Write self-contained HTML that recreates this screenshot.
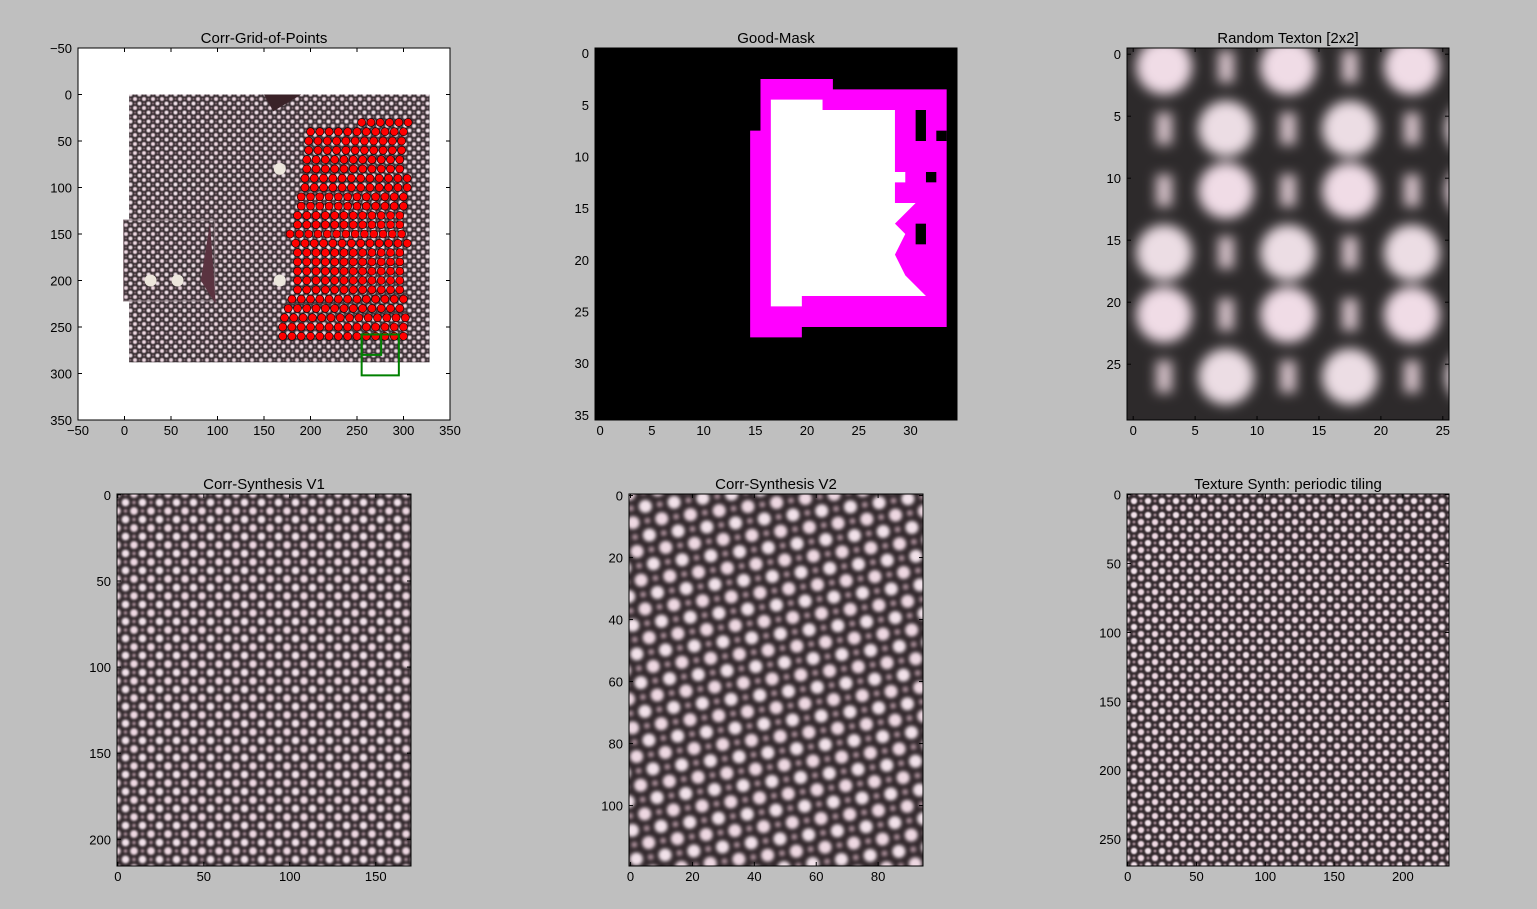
<!DOCTYPE html>
<html><head><meta charset="utf-8"><style>
html,body{margin:0;padding:0;background:#bfbfbf;}
svg{display:block;font-family:"Liberation Sans","DejaVu Sans",sans-serif;}
</style></head><body>
<svg id="fig" width="1537" height="909" viewBox="0 0 1537 909" xmlns="http://www.w3.org/2000/svg">
<defs>
<filter id="blur1"><feGaussianBlur stdDeviation="1.2"/></filter>
<filter id="blur3"><feGaussianBlur stdDeviation="6"/></filter>
<clipPath id="clip3"><rect x="1127" y="48" width="322" height="372"/></clipPath>
<pattern id="tex" patternUnits="userSpaceOnUse" width="20" height="20">
<rect width="20" height="20" fill="#33292d"/>
<g filter="url(#blur1)">
<circle cx="0" cy="0" r="4.5" fill="#eed8e2"/><circle cx="20" cy="0" r="4.5" fill="#eed8e2"/>
<circle cx="0" cy="20" r="4.5" fill="#eed8e2"/><circle cx="20" cy="20" r="4.5" fill="#eed8e2"/>
<circle cx="10" cy="10" r="4.5" fill="#f2e2ea"/>
<circle cx="10" cy="0" r="2" fill="#b89aa6"/><circle cx="0" cy="10" r="2" fill="#b89aa6"/>
<circle cx="20" cy="10" r="2" fill="#b89aa6"/><circle cx="10" cy="20" r="2" fill="#b89aa6"/>
</g>
</pattern>
<pattern id="tex1" href="#tex" patternTransform="scale(0.45)"/>
<pattern id="tex4" href="#tex" patternTransform="translate(117,494) scale(0.85)"/>
<pattern id="tex5" href="#tex" patternTransform="translate(629,494) rotate(-8) scale(1.45)"/>
<pattern id="tex6" href="#tex" patternTransform="translate(1127,494) scale(0.7)"/>
</defs>
</svg>
<script>
// ---- data ----
var axesTitles = ["Corr-Grid-of-Points","Good-Mask","Random Texton [2x2]","Corr-Synthesis V1","Corr-Synthesis V2","Texture Synth: periodic tiling"];
var xTicks1 = [-50,0,50,100,150,200,250,300,350];
var yTicks1 = [-50,0,50,100,150,200,250,300,350];
var xTicks2 = [0,5,10,15,20,25,30];
var yTicks2 = [0,5,10,15,20,25,30,35];
var xTicks3 = [0,5,10,15,20,25];
var yTicks3 = [0,5,10,15,20,25];
var xTicks4 = [0,50,100,150];
var yTicks4 = [0,50,100,150,200];
var xTicks5 = [0,20,40,60,80];
var yTicks5 = [0,20,40,60,80,100];
var xTicks6 = [0,50,100,150,200];
var yTicks6 = [0,50,100,150,200,250];
// red grid points (panel 1): row y values and starting x per row
var rowY = [30,40,50,60,70,80,90,100,110,120,130,140,150,160,170,180,190,200,210,220,230,240,250,260];
var rowStartX = [255,200,198,198,196,196,194,194,190,190,186,186,178,184,186,186,186,186,186,180,176,172,170,170];
var rowEndX = [305,305,305,305,305,305,305,305,305,305,305,305,305,305,305,305,305,305,305,305,305,305,305,305];
var colStep = 10;
// green boxes (data coords)
var boxOuter = [255,258,295,302];
var boxInner = [255,258,276,280];

var NS="http://www.w3.org/2000/svg";
var fig=document.getElementById('fig');
function el(tag,attrs,parent){var e=document.createElementNS(NS,tag);for(var k in attrs)e.setAttribute(k,attrs[k]);(parent||fig).appendChild(e);return e;}
function fmt(v){return v<0?'\u2212'+(-v):''+v;}

function makeAxes(i,L,T,R,B,x0,x1,y0,y1,xt,yt){
  var sx=function(v){return L+(v-x0)/(x1-x0)*(R-L);};
  var sy=function(v){return T+(v-y0)/(y1-y0)*(B-T);};
  return {i:i,L:L,T:T,R:R,B:B,sx:sx,sy:sy,xt:xt,yt:yt};
}
function drawFrame(a,name){
  var g=el('g',{});
  
  
  el('rect',{x:a.L,y:a.T,width:a.R-a.L,height:a.B-a.T,fill:'none',stroke:'#000','stroke-width':1},g);
  a.xt.forEach(function(v){var x=a.sx(v);
    el('line',{x1:x,x2:x,y1:a.B,y2:a.B-4,stroke:'#000'},g);
    el('line',{x1:x,x2:x,y1:a.T,y2:a.T+4,stroke:'#000'},g);
    var t=el('text',{x:x,y:a.B+15,'font-size':13,'text-anchor':'middle',fill:'#000'},g);t.textContent=fmt(v);
    
    
  });
  a.yt.forEach(function(v){var y=a.sy(v);
    el('line',{x1:a.L,x2:a.L+4,y1:y,y2:y,stroke:'#000'},g);
    el('line',{x1:a.R,x2:a.R-4,y1:y,y2:y,stroke:'#000'},g);
    var t=el('text',{x:a.L-6,y:y+5,'font-size':13,'text-anchor':'end',fill:'#000'},g);t.textContent=fmt(v);
    
    
  });
  var tt=el('text',{x:(a.L+a.R)/2,y:a.T-5,'font-size':15,'text-anchor':'middle',fill:'#000'});
  tt.textContent=axesTitles[a.i];
  
  
}

// Panel 1
var a1=makeAxes(0,78,48,450,420,-50,350,-50,350,xTicks1,yTicks1);
var p1=el('g',{});


el('rect',{x:78,y:48,width:372,height:372,fill:'#fff'},p1);
el('rect',{x:a1.sx(5),y:a1.sy(0),width:a1.sx(328)-a1.sx(5),height:a1.sy(288)-a1.sy(0),fill:'url(#tex1)'},p1);
el('rect',{x:a1.sx(-1),y:a1.sy(135),width:a1.sx(97)-a1.sx(-1),height:a1.sy(222)-a1.sy(135),fill:'url(#tex1)',stroke:'#8a7a80','stroke-width':1},p1);
el('polygon',{points:a1.sx(92)+','+a1.sy(138)+' '+a1.sx(82)+','+a1.sy(200)+' '+a1.sx(98)+','+a1.sy(225),fill:'#5a3340'},p1);
el('polygon',{points:a1.sx(150)+','+a1.sy(0)+' '+a1.sx(190)+','+a1.sy(0)+' '+a1.sx(160)+','+a1.sy(18),fill:'#3a2228'},p1);
[[28,200],[57,200],[167,200],[167,80]].forEach(function(b){el('circle',{cx:a1.sx(b[0]),cy:a1.sy(b[1]),r:6,fill:'#ece6dc'},p1);});
for(var r=0;r<rowY.length;r++){
  for(var x=rowStartX[r];x<=rowEndX[r];x+=colStep){
    var c=el('circle',{cx:a1.sx(x),cy:a1.sy(rowY[r]),r:4,fill:'#ff0000',stroke:'#000','stroke-width':0.6});
    
    
  }
}
[boxOuter,boxInner].forEach(function(bx){
  var b=el('rect',{x:a1.sx(bx[0]),y:a1.sy(bx[1]),width:a1.sx(bx[2])-a1.sx(bx[0]),height:a1.sy(bx[3])-a1.sy(bx[1]),fill:'none',stroke:'#008000','stroke-width':2});
  
  
});
drawFrame(a1,'corr-grid');

// Panel 2 mask
var a2=makeAxes(1,595,48,957,420,-0.5,34.5,-0.5,35.5,xTicks2,yTicks2);
var p2=el('g',{});


el('rect',{x:595,y:48,width:362,height:372,fill:'#000'},p2);
function cellPoly(pts,fill){el('polygon',{points:pts.map(function(p){return a2.sx(p[0]-0.5)+','+a2.sy(p[1]-0.5);}).join(' '),fill:fill},p2);}
cellPoly([[16,3],[23,3],[23,4],[34,4],[34,27],[20,27],[20,28],[15,28],[15,8],[16,8]],'#ff00ff');
cellPoly([[17,5],[22,5],[22,6],[29,6],[29,12],[30,12],[30,13],[29,13],[29,15],[31,15],[29,17],[30,18],[29,20],[30,22],[32,24],[20,24],[20,25],[17,25]],'#ffffff');
[[31,6,32,9],[32,12,33,13],[31,17,32,19],[33,8,34,9]].forEach(function(r){el('rect',{x:a2.sx(r[0]-0.5),y:a2.sy(r[1]-0.5),width:a2.sx(r[2])-a2.sx(r[0]),height:a2.sy(r[3])-a2.sy(r[1]),fill:'#000'},p2);});
drawFrame(a2,'good-mask');

// Panel 3 texton
var a3=makeAxes(2,1127,48,1449,420,-0.5,25.5,-0.5,29.5,xTicks3,yTicks3);
var p3=el('g',{'clip-path':'url(#clip3)'});


el('rect',{x:1127,y:48,width:322,height:372,fill:'#2d2a2b'},p3);
var blobs=el('g',{filter:'url(#blur3)'},p3);
var bigX=[2.5,12.5,22.5], bigY=[1,11,21];
bigY.forEach(function(y,ri){bigX.forEach(function(x){
  el('circle',{cx:a3.sx(x+(ri%2?5:0)),cy:a3.sy(y),r:28,fill:'#f0dce6'},blobs);
  el('circle',{cx:a3.sx(x+(ri%2?0:5)),cy:a3.sy(y+5),r:28,fill:'#ecdde4'},blobs);
  el('rect',{x:a3.sx(x+(ri%2?0:5))-8,y:a3.sy(y)-16,width:16,height:32,fill:'#d8c4cc'},blobs);
  el('rect',{x:a3.sx(x+(ri%2?5:0))-8,y:a3.sy(y+5)-16,width:16,height:32,fill:'#d8c4cc'},blobs);
});});
drawFrame(a3,'random-texton');

// Panels 4-6
var a4=makeAxes(3,117,494,411,866,-0.5,170.5,-0.5,215.5,xTicks4,yTicks4);
var a5=makeAxes(4,629,494,923,866,-0.5,94.5,-0.5,119.5,xTicks5,yTicks5);
var a6=makeAxes(5,1127,494,1449,866,-0.5,233.5,-0.5,269.5,xTicks6,yTicks6);
[[a4,'tex4','corr-synthesis-v1'],[a5,'tex5','corr-synthesis-v2'],[a6,'tex6','periodic-tiling']].forEach(function(s){
  var a=s[0];
  var r=el('rect',{x:a.L,y:a.T,width:a.R-a.L,height:a.B-a.T,fill:'url(#'+s[1]+')'});
  
  
  drawFrame(a,s[2]);
});
</script>
</body></html>
